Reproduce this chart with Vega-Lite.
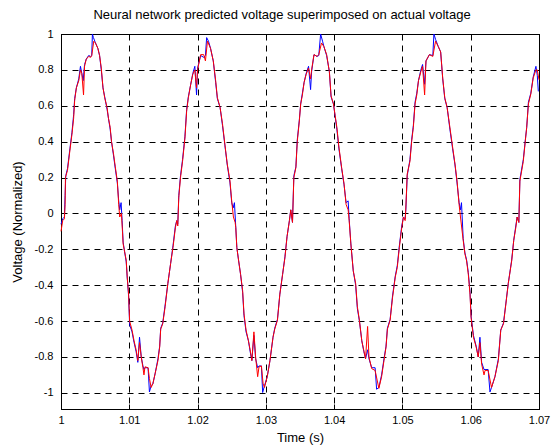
{
  "$schema": "https://vega.github.io/schema/vega-lite/v6.json",
  "width": 478,
  "height": 375,
  "autosize": "none",
  "padding": {"left": 61, "top": 34, "right": 14, "bottom": 39},
  "background": "white",
  "title": {
    "text": "Neural network predicted voltage superimposed on actual voltage",
    "font": "Liberation Sans",
    "fontSize": 13,
    "fontWeight": "normal",
    "color": "black",
    "anchor": "middle",
    "dx": -18,
    "offset": 6
  },
  "config": {
    "view": {"stroke": "black", "strokeWidth": 1},
    "axis": {
      "labelFont": "Liberation Sans",
      "labelFontSize": 11,
      "labelColor": "black",
      "titleFont": "Liberation Sans",
      "titleFontSize": 13,
      "titleFontWeight": "normal",
      "titleColor": "black",
      "domainColor": "black",
      "tickColor": "black",
      "tickSize": -5,
      "gridColor": "black",
      "gridOpacity": 1,
      "gridDash": [6, 5],
      "labelFlush": false,
      "labelOverlap": false,
      "labelBound": false
    }
  },
  "datasets": {
    "actual": [
      {"t":1,"v":-0.10},{"t":1.00025,"v":-0.04},{"t":1.0005,"v":-0.03},{"t":1.0006,"v":0.05},{"t":1.00065,"v":0.20},{"t":1.00095,"v":0.24},{"t":1.0013,"v":0.35},{"t":1.0016,"v":0.44},{"t":1.00185,"v":0.53},{"t":1.002,"v":0.63},{"t":1.00225,"v":0.70},{"t":1.0026,"v":0.74},{"t":1.00285,"v":0.80},{"t":1.00305,"v":0.78},{"t":1.0033,"v":0.66},{"t":1.00345,"v":0.82},{"t":1.0037,"v":0.86},{"t":1.00405,"v":0.875},{"t":1.00435,"v":0.87},{"t":1.0045,"v":0.88},{"t":1.0048,"v":0.96},{"t":1.00505,"v":0.95},{"t":1.0054,"v":0.92},{"t":1.00565,"v":0.88},{"t":1.0059,"v":0.81},{"t":1.00615,"v":0.70},{"t":1.0064,"v":0.645},{"t":1.00675,"v":0.59},{"t":1.00695,"v":0.53},{"t":1.0072,"v":0.48},{"t":1.0074,"v":0.40},{"t":1.0077,"v":0.33},{"t":1.00795,"v":0.26},{"t":1.00825,"v":0.18},{"t":1.00845,"v":0.05},{"t":1.0086,"v":-0.02},{"t":1.00885,"v":0.0},{"t":1.009,"v":-0.10},{"t":1.0091,"v":-0.17},{"t":1.0093,"v":-0.21},{"t":1.00955,"v":-0.26},{"t":1.0097,"v":-0.355},{"t":1.0099,"v":-0.45},{"t":1.01005,"v":-0.60},{"t":1.0104,"v":-0.65},{"t":1.0107,"v":-0.71},{"t":1.011,"v":-0.76},{"t":1.01125,"v":-0.82},{"t":1.0115,"v":-0.72},{"t":1.01175,"v":-0.80},{"t":1.012,"v":-0.86},{"t":1.01215,"v":-0.90},{"t":1.0123,"v":-0.855},{"t":1.01275,"v":-0.86},{"t":1.01295,"v":-0.92},{"t":1.0132,"v":-0.97},{"t":1.01345,"v":-0.95},{"t":1.0138,"v":-0.89},{"t":1.0142,"v":-0.82},{"t":1.01445,"v":-0.745},{"t":1.0146,"v":-0.645},{"t":1.0149,"v":-0.615},{"t":1.01525,"v":-0.52},{"t":1.01565,"v":-0.39},{"t":1.01605,"v":-0.28},{"t":1.0164,"v":-0.19},{"t":1.01675,"v":-0.08},{"t":1.01695,"v":-0.04},{"t":1.0171,"v":-0.07},{"t":1.01725,"v":0.09},{"t":1.0175,"v":0.20},
      {"t":1.0178,"v":0.29},{"t":1.01815,"v":0.42},{"t":1.0184,"v":0.57},{"t":1.01865,"v":0.645},{"t":1.019,"v":0.72},{"t":1.0193,"v":0.775},{"t":1.0196,"v":0.80},{"t":1.01985,"v":0.70},{"t":1.02,"v":0.80},{"t":1.02045,"v":0.885},{"t":1.0209,"v":0.885},{"t":1.02115,"v":0.85},{"t":1.02145,"v":0.96},{"t":1.0219,"v":0.92},{"t":1.0223,"v":0.85},{"t":1.02265,"v":0.74},{"t":1.0229,"v":0.645},{"t":1.0233,"v":0.59},{"t":1.02365,"v":0.50},{"t":1.024,"v":0.385},{"t":1.02435,"v":0.275},{"t":1.02475,"v":0.18},{"t":1.025,"v":0.07},{"t":1.02525,"v":-0.02},{"t":1.0255,"v":-0.05},{"t":1.0256,"v":-0.08},{"t":1.02575,"v":-0.19},{"t":1.026,"v":-0.26},{"t":1.0263,"v":-0.34},{"t":1.0266,"v":-0.43},{"t":1.0268,"v":-0.56},{"t":1.0271,"v":-0.65},{"t":1.02745,"v":-0.71},{"t":1.0277,"v":-0.76},{"t":1.02795,"v":-0.82},{"t":1.02825,"v":-0.66},{"t":1.0285,"v":-0.80},{"t":1.0288,"v":-0.91},{"t":1.029,"v":-0.855},{"t":1.02935,"v":-0.85},{"t":1.0296,"v":-0.95},{"t":1.0298,"v":-0.97},{"t":1.0302,"v":-0.91},{"t":1.0306,"v":-0.82},{"t":1.03105,"v":-0.69},{"t":1.0313,"v":-0.645},{"t":1.0317,"v":-0.595},{"t":1.03205,"v":-0.45},{"t":1.03245,"v":-0.34},{"t":1.0328,"v":-0.245},{"t":1.0331,"v":-0.13},{"t":1.03345,"v":-0.04},{"t":1.03365,"v":0.02},{"t":1.0339,"v":-0.05},{"t":1.0341,"v":0.20},{"t":1.0344,"v":0.255},{"t":1.0346,"v":0.40},{"t":1.0349,"v":0.515},{"t":1.0351,"v":0.61},{"t":1.03535,"v":0.66},
      {"t":1.0356,"v":0.73},{"t":1.0359,"v":0.775},{"t":1.03625,"v":0.81},{"t":1.03655,"v":0.75},{"t":1.0367,"v":0.80},{"t":1.03705,"v":0.885},{"t":1.0375,"v":0.875},{"t":1.03775,"v":0.885},{"t":1.03815,"v":0.95},{"t":1.0385,"v":0.93},{"t":1.0389,"v":0.885},{"t":1.0393,"v":0.79},{"t":1.03955,"v":0.655},{"t":1.0399,"v":0.61},{"t":1.04015,"v":0.545},{"t":1.0404,"v":0.48},{"t":1.0407,"v":0.37},{"t":1.0411,"v":0.255},{"t":1.04145,"v":0.165},{"t":1.04175,"v":0.05},{"t":1.04205,"v":0.02},{"t":1.0422,"v":-0.04},{"t":1.04245,"v":-0.17},{"t":1.0428,"v":-0.32},{"t":1.04315,"v":-0.39},{"t":1.0434,"v":-0.52},{"t":1.0437,"v":-0.595},{"t":1.04405,"v":-0.71},{"t":1.04435,"v":-0.765},{"t":1.0446,"v":-0.81},{"t":1.0449,"v":-0.63},{"t":1.0451,"v":-0.80},{"t":1.0455,"v":-0.865},{"t":1.046,"v":-0.875},{"t":1.04655,"v":-0.975},{"t":1.04695,"v":-0.91},{"t":1.0473,"v":-0.82},{"t":1.0476,"v":-0.745},{"t":1.0478,"v":-0.645},{"t":1.0482,"v":-0.595},{"t":1.04855,"v":-0.47},{"t":1.04895,"v":-0.355},{"t":1.04925,"v":-0.30},{"t":1.04955,"v":-0.19},{"t":1.0499,"v":-0.08},{"t":1.05015,"v":-0.02},{"t":1.0504,"v":-0.04},{"t":1.0505,"v":0.03},{"t":1.0507,"v":0.22},{"t":1.0511,"v":0.29},{"t":1.05135,"v":0.40},{"t":1.0516,"v":0.48},{"t":1.05185,"v":0.61},{"t":1.0521,"v":0.66},{"t":1.05235,"v":0.74},{"t":1.0527,"v":0.79},{"t":1.05295,"v":0.82},
      {"t":1.05325,"v":0.66},{"t":1.05345,"v":0.85},{"t":1.05395,"v":0.885},{"t":1.05445,"v":0.875},{"t":1.05485,"v":0.96},{"t":1.05525,"v":0.93},{"t":1.0556,"v":0.90},{"t":1.0559,"v":0.755},{"t":1.0562,"v":0.645},{"t":1.05655,"v":0.59},{"t":1.05695,"v":0.48},{"t":1.05735,"v":0.37},{"t":1.0577,"v":0.275},{"t":1.058,"v":0.18},{"t":1.0583,"v":0.05},{"t":1.0585,"v":-0.02},{"t":1.0589,"v":-0.15},{"t":1.05915,"v":-0.225},{"t":1.0594,"v":-0.265},{"t":1.05965,"v":-0.34},{"t":1.0599,"v":-0.45},{"t":1.06005,"v":-0.58},{"t":1.0604,"v":-0.69},{"t":1.0608,"v":-0.745},{"t":1.0611,"v":-0.80},{"t":1.06135,"v":-0.72},{"t":1.0616,"v":-0.84},{"t":1.06195,"v":-0.90},{"t":1.0621,"v":-0.875},{"t":1.06255,"v":-0.875},{"t":1.06305,"v":-0.97},{"t":1.06355,"v":-0.91},{"t":1.06405,"v":-0.82},{"t":1.0644,"v":-0.65},{"t":1.0648,"v":-0.615},{"t":1.06515,"v":-0.505},{"t":1.0655,"v":-0.39},{"t":1.066,"v":-0.265},{"t":1.0663,"v":-0.15},{"t":1.0666,"v":-0.08},{"t":1.0668,"v":-0.02},{"t":1.06705,"v":-0.05},{"t":1.0672,"v":0.18},{"t":1.0677,"v":0.29},{"t":1.068,"v":0.405},{"t":1.0682,"v":0.48},{"t":1.06845,"v":0.61},{"t":1.0688,"v":0.665},{"t":1.06915,"v":0.755},{"t":1.06955,"v":0.80},{"t":1.06975,"v":0.80},{"t":1.07,"v":0.745}
    ],
    "predicted": [
      {"t":1,"v":-0.06},{"t":1.00025,"v":-0.03},{"t":1.0005,"v":-0.02},{"t":1.0006,"v":0.10},{"t":1.0007,"v":0.21},{"t":1.00095,"v":0.25},{"t":1.0013,"v":0.36},{"t":1.0016,"v":0.45},{"t":1.00185,"v":0.55},{"t":1.002,"v":0.64},{"t":1.00225,"v":0.70},{"t":1.0026,"v":0.75},{"t":1.00285,"v":0.82},{"t":1.00305,"v":0.78},{"t":1.00325,"v":0.74},{"t":1.00345,"v":0.83},{"t":1.0037,"v":0.86},{"t":1.00405,"v":0.88},{"t":1.00435,"v":0.875},{"t":1.0045,"v":0.88},{"t":1.0046,"v":1.0},{"t":1.00475,"v":0.98},{"t":1.00505,"v":0.95},{"t":1.0054,"v":0.92},{"t":1.00565,"v":0.88},{"t":1.0059,"v":0.80},{"t":1.00615,"v":0.70},{"t":1.0064,"v":0.65},{"t":1.00675,"v":0.58},{"t":1.00695,"v":0.53},{"t":1.0072,"v":0.47},{"t":1.0074,"v":0.40},{"t":1.0077,"v":0.32},{"t":1.00795,"v":0.25},{"t":1.00825,"v":0.17},{"t":1.00845,"v":0.07},{"t":1.0086,"v":0.02},{"t":1.0088,"v":0.06},{"t":1.00895,"v":-0.04},{"t":1.0091,"v":-0.16},{"t":1.0093,"v":-0.21},{"t":1.00955,"v":-0.27},{"t":1.0097,"v":-0.36},{"t":1.0099,"v":-0.46},{"t":1.01005,"v":-0.62},{"t":1.0104,"v":-0.66},{"t":1.0107,"v":-0.72},{"t":1.011,"v":-0.77},{"t":1.01125,"v":-0.83},{"t":1.0115,"v":-0.69},{"t":1.01175,"v":-0.80},{"t":1.012,"v":-0.85},{"t":1.01215,"v":-0.87},{"t":1.0123,"v":-0.86},{"t":1.01275,"v":-0.86},{"t":1.01295,"v":-0.995},{"t":1.0132,"v":-0.96},{"t":1.01345,"v":-0.95},{"t":1.0138,"v":-0.89},{"t":1.0142,"v":-0.81},{"t":1.01445,"v":-0.74},{"t":1.0146,"v":-0.64},{"t":1.0149,"v":-0.61},{"t":1.01525,"v":-0.51},{"t":1.01565,"v":-0.39},{"t":1.01605,"v":-0.28},{"t":1.0164,"v":-0.18},{"t":1.01675,"v":-0.07},{"t":1.01695,"v":-0.04},{"t":1.0171,"v":-0.06},{"t":1.01725,"v":0.10},{"t":1.0175,"v":0.21},
      {"t":1.0178,"v":0.30},{"t":1.01815,"v":0.43},{"t":1.0184,"v":0.58},{"t":1.01865,"v":0.65},{"t":1.019,"v":0.72},{"t":1.0193,"v":0.78},{"t":1.0196,"v":0.82},{"t":1.01985,"v":0.66},{"t":1.02,"v":0.81},{"t":1.02045,"v":0.88},{"t":1.0209,"v":0.87},{"t":1.02115,"v":0.88},{"t":1.02133,"v":0.98},{"t":1.0216,"v":0.96},{"t":1.0219,"v":0.92},{"t":1.0223,"v":0.85},{"t":1.02265,"v":0.73},{"t":1.0229,"v":0.64},{"t":1.0233,"v":0.59},{"t":1.02365,"v":0.49},{"t":1.024,"v":0.38},{"t":1.02435,"v":0.27},{"t":1.02475,"v":0.17},{"t":1.025,"v":0.06},{"t":1.0252,"v":0.03},{"t":1.0254,"v":0.06},{"t":1.0256,"v":-0.08},{"t":1.02575,"v":-0.19},{"t":1.026,"v":-0.26},{"t":1.0263,"v":-0.34},{"t":1.0266,"v":-0.44},{"t":1.0268,"v":-0.57},{"t":1.0271,"v":-0.66},{"t":1.02745,"v":-0.71},{"t":1.0277,"v":-0.77},{"t":1.02795,"v":-0.82},{"t":1.02825,"v":-0.68},{"t":1.0285,"v":-0.81},{"t":1.0288,"v":-0.86},{"t":1.029,"v":-0.85},{"t":1.02935,"v":-0.85},{"t":1.02953,"v":-0.998},{"t":1.0298,"v":-0.96},{"t":1.0302,"v":-0.91},{"t":1.0306,"v":-0.82},{"t":1.03105,"v":-0.69},{"t":1.0313,"v":-0.64},{"t":1.0317,"v":-0.59},{"t":1.03205,"v":-0.45},{"t":1.03245,"v":-0.34},{"t":1.0328,"v":-0.24},{"t":1.0331,"v":-0.13},{"t":1.03345,"v":-0.04},{"t":1.03365,"v":0.02},{"t":1.0339,"v":-0.05},{"t":1.0341,"v":0.21},{"t":1.0344,"v":0.26},{"t":1.0346,"v":0.41},{"t":1.0349,"v":0.52},{"t":1.0351,"v":0.61},{"t":1.03535,"v":0.67},
      {"t":1.0356,"v":0.73},{"t":1.0359,"v":0.78},{"t":1.03625,"v":0.82},{"t":1.03655,"v":0.69},{"t":1.0367,"v":0.79},{"t":1.03705,"v":0.885},{"t":1.0375,"v":0.875},{"t":1.03775,"v":0.88},{"t":1.03802,"v":1.0},{"t":1.0383,"v":0.96},{"t":1.0385,"v":0.93},{"t":1.0389,"v":0.88},{"t":1.0393,"v":0.79},{"t":1.03955,"v":0.65},{"t":1.0399,"v":0.61},{"t":1.04015,"v":0.54},{"t":1.0404,"v":0.47},{"t":1.0407,"v":0.36},{"t":1.0411,"v":0.25},{"t":1.04145,"v":0.16},{"t":1.04175,"v":0.06},{"t":1.04205,"v":0.07},{"t":1.0422,"v":-0.03},{"t":1.04245,"v":-0.17},{"t":1.0428,"v":-0.32},{"t":1.04315,"v":-0.40},{"t":1.0434,"v":-0.53},{"t":1.0437,"v":-0.60},{"t":1.04405,"v":-0.71},{"t":1.04435,"v":-0.77},{"t":1.0446,"v":-0.81},{"t":1.0449,"v":-0.76},{"t":1.0451,"v":-0.81},{"t":1.0455,"v":-0.86},{"t":1.046,"v":-0.86},{"t":1.04622,"v":-0.98},{"t":1.04655,"v":-0.97},{"t":1.04695,"v":-0.90},{"t":1.0473,"v":-0.81},{"t":1.0476,"v":-0.74},{"t":1.0478,"v":-0.64},{"t":1.0482,"v":-0.59},{"t":1.04855,"v":-0.46},{"t":1.04895,"v":-0.35},{"t":1.04925,"v":-0.29},{"t":1.04955,"v":-0.18},{"t":1.0499,"v":-0.07},{"t":1.05015,"v":-0.02},{"t":1.0504,"v":-0.03},{"t":1.0505,"v":0.02},{"t":1.0507,"v":0.21},{"t":1.0511,"v":0.30},{"t":1.05135,"v":0.41},{"t":1.0516,"v":0.49},{"t":1.05185,"v":0.62},{"t":1.0521,"v":0.67},{"t":1.05235,"v":0.74},{"t":1.0527,"v":0.80},{"t":1.05295,"v":0.83},
      {"t":1.05325,"v":0.72},{"t":1.05345,"v":0.85},{"t":1.05395,"v":0.885},{"t":1.05445,"v":0.88},{"t":1.05461,"v":1.0},{"t":1.05485,"v":0.97},{"t":1.05525,"v":0.93},{"t":1.0556,"v":0.90},{"t":1.0559,"v":0.75},{"t":1.0562,"v":0.64},{"t":1.05655,"v":0.59},{"t":1.05695,"v":0.47},{"t":1.05735,"v":0.36},{"t":1.0577,"v":0.27},{"t":1.058,"v":0.17},{"t":1.0583,"v":0.06},{"t":1.0585,"v":0.02},{"t":1.05865,"v":0.06},{"t":1.0589,"v":-0.14},{"t":1.05915,"v":-0.22},{"t":1.0594,"v":-0.26},{"t":1.05965,"v":-0.33},{"t":1.0599,"v":-0.44},{"t":1.06005,"v":-0.57},{"t":1.0604,"v":-0.68},{"t":1.0608,"v":-0.74},{"t":1.0611,"v":-0.80},{"t":1.06135,"v":-0.69},{"t":1.0616,"v":-0.83},{"t":1.06195,"v":-0.87},{"t":1.0621,"v":-0.87},{"t":1.06255,"v":-0.87},{"t":1.06282,"v":-0.995},{"t":1.06305,"v":-0.97},{"t":1.06355,"v":-0.91},{"t":1.06405,"v":-0.81},{"t":1.0644,"v":-0.65},{"t":1.0648,"v":-0.61},{"t":1.06515,"v":-0.50},{"t":1.0655,"v":-0.39},{"t":1.066,"v":-0.26},{"t":1.0663,"v":-0.15},{"t":1.0666,"v":-0.07},{"t":1.0668,"v":-0.02},{"t":1.06705,"v":-0.05},{"t":1.0672,"v":0.19},{"t":1.0677,"v":0.30},{"t":1.068,"v":0.41},{"t":1.0682,"v":0.48},{"t":1.06845,"v":0.62},{"t":1.0688,"v":0.67},{"t":1.06915,"v":0.76},{"t":1.06955,"v":0.82},{"t":1.06975,"v":0.77},{"t":1.0699,"v":0.68}
    ]
  },
  "layer": [
    {
      "data": {"name": "predicted"},
      "mark": {"type": "line", "color": "#0000ff", "strokeWidth": 1},
      "encoding": {
        "x": {
          "field": "t", "type": "quantitative",
          "scale": {"domain": [1, 1.07], "nice": false, "zero": false},
          "axis": {
            "orient": "bottom",
            "title": "Time (s)",
            "values": [1, 1.01, 1.02, 1.03, 1.04, 1.05, 1.06, 1.07],
            "format": "~g",
            "labelPadding": 10,
            "titlePadding": 6,
            "grid": true
          }
        },
        "y": {
          "field": "v", "type": "quantitative",
          "scale": {"domain": [-1.09, 1], "nice": false, "zero": false},
          "axis": {
            "orient": "left",
            "title": "Voltage (Normalized)",
            "values": [-1, -0.8, -0.6, -0.4, -0.2, 0, 0.2, 0.4, 0.6, 0.8, 1],
            "format": "~g",
            "labelExpr": "replace(datum.label, '\u2212', '-')",
            "labelPadding": 13,
            "titlePadding": 10,
            "grid": true
          }
        }
      }
    },
    {
      "data": {"name": "actual"},
      "mark": {"type": "line", "color": "#ff0000", "strokeWidth": 1},
      "encoding": {
        "x": {
          "field": "t", "type": "quantitative",
          "axis": {
            "orient": "top",
            "title": null,
            "labels": false,
            "grid": false,
            "values": [1, 1.01, 1.02, 1.03, 1.04, 1.05, 1.06, 1.07]
          }
        },
        "y": {
          "field": "v", "type": "quantitative",
          "axis": {
            "orient": "right",
            "title": null,
            "labels": false,
            "grid": false,
            "values": [-1, -0.8, -0.6, -0.4, -0.2, 0, 0.2, 0.4, 0.6, 0.8, 1]
          }
        }
      }
    }
  ],
  "resolve": {"axis": {"x": "independent", "y": "independent"}}
}
